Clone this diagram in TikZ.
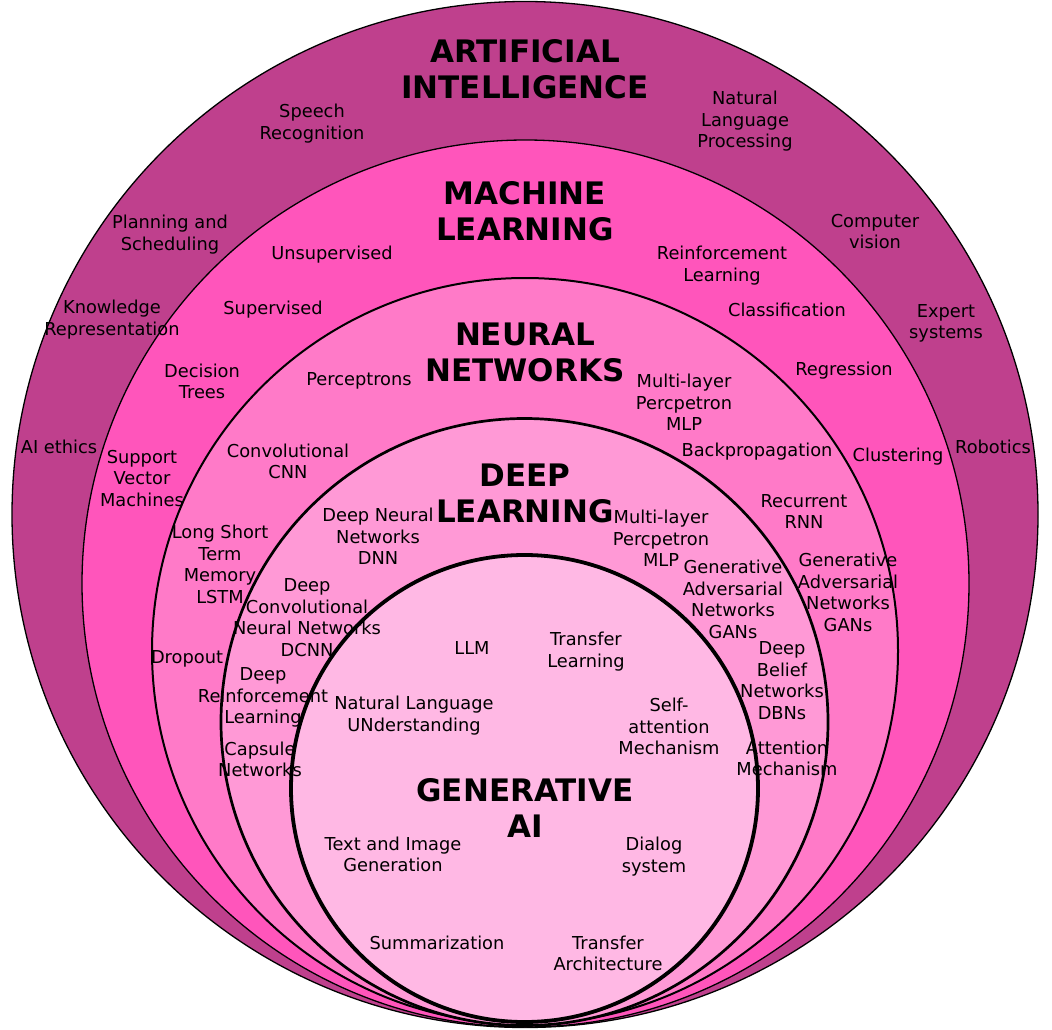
\documentclass[tikz,border=0pt]{standalone}
\usepackage{fontspec}
\setmainfont{DejaVu Sans}
\definecolor{aiFill}{RGB}{191,64,141}
\definecolor{mlFill}{RGB}{255,85,187}
\definecolor{nnFill}{RGB}{255,122,200}
\definecolor{dlFill}{RGB}{255,153,214}
\definecolor{genFill}{RGB}{255,184,228}

\begin{document}
\begin{tikzpicture}[x=1pt,y=1pt,yscale=-1,xscale=1,
  lbl/.style={align=center,inner sep=0.75pt,yshift=-1.5pt,font=\fontsize{17.8}{21.5}\selectfont},
  ttl/.style={align=center,inner sep=0.75pt,yshift=-1pt,font=\fontsize{31}{36}\selectfont\bfseries}]
\useasboundingbox (0,0) rectangle (1052,1030);

%Shape: Circle [id:ai]
\draw [fill=aiFill, line width=1.3] (525,514.5) circle (513);
%Shape: Circle [id:ml]
\draw [fill=mlFill, line width=1.3] (525.5,583.5) circle (443.5);
%Shape: Circle [id:nn]
\draw [fill=nnFill, line width=2] (525,651) circle (373);
%Shape: Circle [id:dl]
\draw [fill=dlFill, line width=2.7] (524.5,722) circle (303.5);
%Shape: Circle [id:gen]
\draw [fill=genFill, line width=3.8] (524.5,788.5) circle (233.5);

% Text Node
\draw (525,68) node (aiTitle) [ttl] {ARTIFICIAL\\INTELLIGENCE};
% Text Node
\draw (312,122) node (speech) [lbl] {Speech\\Recognition};
% Text Node
\draw (745,120) node (nlp) [lbl] {Natural\\Language\\Processing};
% Text Node
\draw (170,233) node (planning) [lbl] {Planning and\\Scheduling};
% Text Node
\draw (875,230) node (vision) [lbl] {Computer\\vision};
% Text Node
\draw (112,318) node (knowledge) [lbl] {Knowledge\\Representation};
% Text Node
\draw (946,322) node (expert) [lbl] {Expert\\systems};
% Text Node
\draw (59,445) node (ethics) [lbl] {AI ethics};
% Text Node
\draw (993,445) node (robotics) [lbl] {Robotics};

% Text Node
\draw (525,210) node (mlTitle) [ttl] {MACHINE\\LEARNING};
% Text Node
\draw (332,253) node (unsup) [lbl] {Unsupervised};
% Text Node
\draw (722,264) node (reinf) [lbl] {Reinforcement\\Learning};
% Text Node
\draw (273,308) node (sup) [lbl] {Supervised};
% Text Node
\draw (787,308) node (classif) [lbl] {Classification};
% Text Node
\draw (202,380) node (trees) [lbl] {Decision\\Trees};
% Text Node
\draw (844,369) node (regr) [lbl] {Regression};
% Text Node
\draw (142,477) node (svm) [lbl] {Support\\Vector\\Machines};
% Text Node
\draw (898,455) node (clust) [lbl] {Clustering};
% Text Node
\draw (848,591) node (gansMl) [lbl] {Generative\\Adversarial\\Networks\\GANs};

% Text Node
\draw (525,351) node (nnTitle) [ttl] {NEURAL\\NETWORKS};
% Text Node
\draw (359,379) node (percep) [lbl] {Perceptrons};
% Text Node
\draw (684,401) node (mlpNn) [lbl] {Multi-layer\\Percpetron\\MLP};
% Text Node
\draw (288,460) node (cnn) [lbl] {Convolutional\\CNN};
% Text Node
\draw (757,450) node (backprop) [lbl] {Backpropagation};
% Text Node
\draw (804,510) node (rnn) [lbl] {Recurrent\\RNN};
% Text Node
\draw (220,563) node (lstm) [lbl] {Long Short\\Term\\Memory\\LSTM};
% Text Node
\draw (187,657) node (dropout) [lbl] {Dropout};
% Text Node
\draw (782,679) node (dbn) [lbl] {Deep\\Belief\\Networks\\DBNs};
% Text Node
\draw (787,757) node (attn) [lbl] {Attention\\Mechanism};
% Text Node
\draw (263,696) node (drl) [lbl] {Deep\\Reinforcement\\Learning};
% Text Node
\draw (260,758) node (capsule) [lbl] {Capsule\\Networks};

% Text Node
\draw (525,492) node (dlTitle) [ttl] {DEEP\\LEARNING};
% Text Node
\draw (378,535) node (dnn) [lbl] {Deep Neural\\Networks\\DNN};
% Text Node
\draw (661,537) node (mlpDl) [lbl] {Multi-layer\\Percpetron\\MLP};
% Text Node
\draw (733,598) node (gansDl) [lbl] {Generative\\Adversarial\\Networks\\GANs};
% Text Node
\draw (307,616) node (dcnn) [lbl] {Deep\\Convolutional\\Neural Networks\\DCNN};

% Text Node
\draw (525,807) node (genTitle) [ttl] {GENERATIVE\\AI};
% Text Node
\draw (472,647) node (llm) [lbl] {LLM};
% Text Node
\draw (586,650) node (transfer) [lbl] {Transfer\\Learning};
% Text Node
\draw (414,714) node (nlu) [lbl] {Natural Language\\UNderstanding};
% Text Node
\draw (669,725) node (selfAttn) [lbl] {Self-\\attention\\Mechanism};
% Text Node
\draw (393,853) node (textImg) [lbl] {Text and Image\\Generation};
% Text Node
\draw (654,855) node (dialog) [lbl] {Dialog\\system};
% Text Node
\draw (437,941) node (summ) [lbl] {Summarization};
% Text Node
\draw (608,952) node (arch) [lbl] {Transfer\\Architecture};

\end{tikzpicture}
\end{document}
